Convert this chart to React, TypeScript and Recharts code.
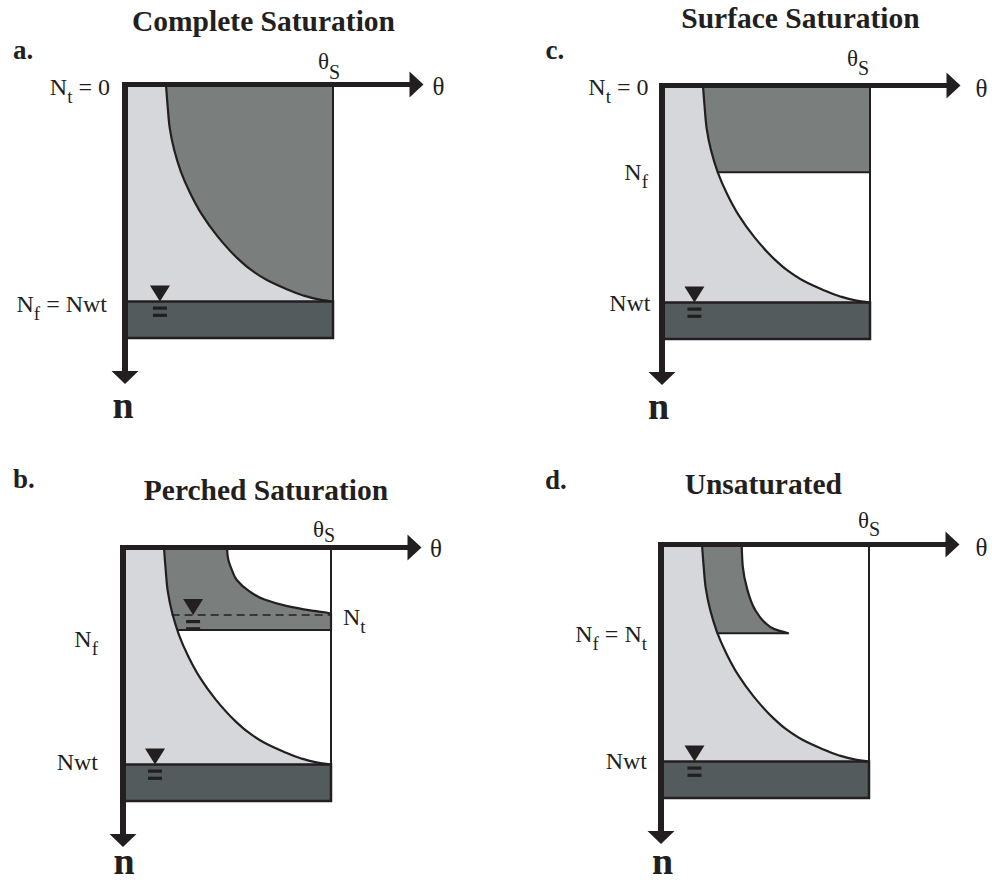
import React from 'react';
import {
  ComposedChart,
  XAxis,
  YAxis,
  Area,
  Line,
  ReferenceArea,
  ReferenceLine,
  ReferenceDot,
} from 'recharts';

const INK = '#231f20';
const LIGHT = '#d6d7db';
const MID = '#7a7f7e';
const WATER = '#545b5d';
const FONT = '"Liberation Serif", "Times New Roman", serif';

// moisture profile θ(n) from the surface down to the water table
const depth = [0, 0.1, 0.2, 0.3, 0.4, 0.5, 0.6, 0.7, 0.8, 0.85, 0.9, 0.94, 0.97, 0.99, 1.0];
const retention = [0.197, 0.205, 0.215, 0.236, 0.268, 0.313, 0.37, 0.445, 0.54, 0.6, 0.68, 0.77, 0.85, 0.93, 1.0];

// surface saturation reaches down to the front
const surfaceDepth = depth.slice(0, 5);
const surfaceInner = retention.slice(0, 5);

// perched lens sitting on the front
const perchedDepth = [0, 0.05, 0.1, 0.15, 0.2, 0.24, 0.27, 0.29, 0.305, 0.38];
const perchedInner = [0.197, 0.2, 0.205, 0.21, 0.215, 0.222, 0.23, 0.234, 0.238, 0.26];
const perchedOuter = [0.5, 0.505, 0.522, 0.547, 0.605, 0.68, 0.79, 0.9, 1.0, 1.0];

// wetting pulse above the front
const pulseDepth = [0, 0.1, 0.2, 0.3, 0.36, 0.39, 0.409];
const pulseInner = [0.197, 0.205, 0.215, 0.236, 0.255, 0.262, 0.268];
const pulseOuter = [0.388, 0.393, 0.413, 0.452, 0.5, 0.545, 0.612];

const N_WT = 1;
const N_BOTTOM = 1.168;
const THETA_S = 1;
const THETA_END = 1.435;
const N_END = 1.38;

type Row = { n: number; th: number };
type Band = { n: number; lo: number; hi: number };
const wetting: Row[] = depth.map((n, i) => ({ n, th: retention[i] }));
const band = (ns: number[], lo: number[], hi: number[] | number): Band[] =>
  ns.map((n, i) => ({ n, lo: lo[i], hi: Array.isArray(hi) ? hi[i] : hi }));

// chart frame: origin (θ=0, n=0) sits at OX, OY inside each chart
const W = 496;
const H = 441;
const OX = 125;
const OY = 84.5;
const KX = 208;
const KY = 217;
const xDomain: [number, number] = [-OX / KX, (W - OX) / KX];
const nDomain: [number, number] = [-OY / KY, (H - OY) / KY];

type Part = { t: string; sub?: boolean };
type Tag = {
  x: number;
  y: number;
  dx: number;
  dy: number;
  parts: Part[];
  anchor?: 'start' | 'middle' | 'end';
  size?: number;
  subSize?: number;
  subShift?: number;
  bold?: boolean;
};

const N = (s: string, rest?: string): Part[] =>
  rest ? [{ t: 'N' }, { t: s, sub: true }, { t: rest }] : [{ t: 'N' }, { t: s, sub: true }];
const thetaS: Part[] = [{ t: 'θ' }, { t: 'S', sub: true }];

type PanelSpec = {
  key: string;
  left: number;
  top: number;
  title: string;
  titleX: number;
  titleY: number;
  letter: string;
  letterX: number;
  letterY: number;
  zone: Band[];
  rimmed: boolean;
  fronts: [number, number, number][];
  dashed?: [number, number, number];
  marks: [number, number][];
  tags: Tag[];
};

const panels: PanelSpec[] = [
  {
    key: 'a',
    left: 0,
    top: 0,
    title: 'Complete Saturation',
    titleX: 263.5,
    titleY: 30.5,
    letter: 'a.',
    letterX: 13,
    letterY: 59,
    zone: band(depth, retention, THETA_S),
    rimmed: false,
    fronts: [],
    marks: [[0.168, N_WT]],
    tags: [
      { x: 0, y: 0, dx: -15, dy: 10.5, parts: N('t', ' = 0') },
      { x: 0, y: N_WT, dx: -18, dy: 10, parts: N('f', ' = Nwt') },
      { x: THETA_S, y: 0, dx: -15, dy: -15.5, parts: thetaS, anchor: 'start', size: 23, subSize: 20, subShift: 10 },
      { x: THETA_END, y: 0, dx: 9, dy: 10.5, parts: [{ t: 'θ' }], anchor: 'start', size: 25 },
      { x: 0, y: N_END, dx: -2, dy: 34, parts: [{ t: 'n' }], anchor: 'middle', size: 38, bold: true },
    ],
  },
  {
    key: 'c',
    left: 536.5,
    top: 0.8,
    title: 'Surface Saturation',
    titleX: 263.5,
    titleY: 27.2,
    letter: 'c.',
    letterX: 8.5,
    letterY: 57.7,
    zone: band(surfaceDepth, surfaceInner, THETA_S),
    rimmed: false,
    fronts: [[0.268, 0.4, THETA_S]],
    marks: [[0.156, N_WT]],
    tags: [
      { x: 0, y: 0, dx: -13.5, dy: 9.7, parts: N('t', ' = 0') },
      { x: 0, y: 0.4, dx: -14, dy: 8, parts: N('f') },
      { x: 0, y: N_WT, dx: -11.5, dy: 8, parts: [{ t: 'Nwt' }] },
      { x: THETA_S, y: 0, dx: -23, dy: -20, parts: thetaS, anchor: 'start', size: 23, subSize: 20, subShift: 9 },
      { x: THETA_END, y: 0, dx: 15, dy: 11, parts: [{ t: 'θ' }], anchor: 'start', size: 25 },
      { x: 0, y: N_END, dx: -3.5, dy: 34, parts: [{ t: 'n' }], anchor: 'middle', size: 38, bold: true },
    ],
  },
  {
    key: 'b',
    left: -2,
    top: 463,
    title: 'Perched Saturation',
    titleX: 268,
    titleY: 37,
    letter: 'b.',
    letterX: 15,
    letterY: 25,
    zone: band(perchedDepth, perchedInner, perchedOuter),
    rimmed: true,
    fronts: [[0.26, 0.38, THETA_S]],
    dashed: [0.234, 0.311, THETA_S],
    marks: [
      [0.154, N_WT],
      [0.337, 0.311],
    ],
    tags: [
      { x: 0, y: 0.38, dx: -25, dy: 17, parts: N('f') },
      { x: 0, y: N_WT, dx: -25, dy: 5.5, parts: [{ t: 'Nwt' }] },
      { x: THETA_S, y: 0.311, dx: 12, dy: 10, parts: N('t'), anchor: 'start' },
      { x: THETA_S, y: 0, dx: -18, dy: -11, parts: thetaS, anchor: 'start', size: 23, subSize: 20, subShift: 5 },
      { x: THETA_END, y: 0, dx: 8.5, dy: 9, parts: [{ t: 'θ' }], anchor: 'start', size: 25 },
      { x: 0, y: N_END, dx: 1, dy: 27, parts: [{ t: 'n' }], anchor: 'middle', size: 38, bold: true },
    ],
  },
  {
    key: 'd',
    left: 536,
    top: 459.5,
    title: 'Unsaturated',
    titleX: 227.3,
    titleY: 33.5,
    letter: 'd.',
    letterX: 9,
    letterY: 28.5,
    zone: band(pulseDepth, pulseInner, pulseOuter),
    rimmed: true,
    fronts: [[0.268, 0.409, 0.615]],
    marks: [[0.161, N_WT]],
    tags: [
      { x: 0, y: 0.409, dx: -14, dy: 9, parts: [...N('f', ' = N'), { t: 't', sub: true }] },
      { x: 0, y: N_WT, dx: -14, dy: 7, parts: [{ t: 'Nwt' }] },
      { x: THETA_S, y: 0, dx: -11, dy: -17, parts: thetaS, anchor: 'start', size: 23, subSize: 20, subShift: 8 },
      { x: THETA_END, y: 0, dx: 16, dy: 11, parts: [{ t: 'θ' }], anchor: 'start', size: 25 },
      { x: 0, y: N_END, dx: 1.5, dy: 30, parts: [{ t: 'n' }], anchor: 'middle', size: 38, bold: true },
    ],
  },
];

function renderTag(cx: number, cy: number, tag: Tag) {
  const size = tag.size ?? 24;
  const subSize = tag.subSize ?? 19;
  const shift = tag.subShift ?? 8;
  let low = false;
  return (
    <text
      x={cx + tag.dx}
      y={cy + tag.dy}
      textAnchor={tag.anchor ?? 'end'}
      fontFamily={FONT}
      fontSize={size}
      fontWeight={tag.bold ? 700 : 400}
      fill={INK}
    >
      {tag.parts.map((p, i) => {
        let dy = 0;
        if (p.sub && !low) {
          dy = shift;
          low = true;
        } else if (!p.sub && low) {
          dy = -shift;
          low = false;
        }
        return (
          <tspan key={i} dy={dy || undefined} fontSize={p.sub ? subSize : size}>
            {p.t}
          </tspan>
        );
      })}
    </text>
  );
}

const waterMark = (props: any) => {
  const { cx, cy } = props;
  return (
    <g fill={INK}>
      <polygon points={`${cx - 10},${cy - 16} ${cx + 10},${cy - 16} ${cx},${cy}`} />
      <rect x={cx - 7} y={cy + 5} width={14} height={3.2} />
      <rect x={cx - 7} y={cy + 12.2} width={14} height={3.2} />
    </g>
  );
};

const arrowRight = (props: any) => {
  const { cx, cy } = props;
  return <polygon points={`${cx},${cy} ${cx - 14},${cy - 13} ${cx - 14},${cy + 13}`} fill={INK} />;
};

const arrowDown = (props: any) => {
  const { cx, cy } = props;
  return <polygon points={`${cx},${cy} ${cx - 13.5},${cy - 13} ${cx + 13.5},${cy - 13}`} fill={INK} />;
};

function Panel({ p }: { p: PanelSpec }) {
  return (
    <div style={{ position: 'absolute', left: p.left, top: p.top, width: W, height: H }}>
      <ComposedChart
        width={W}
        height={H}
        layout="vertical"
        margin={{ top: 0, right: 0, bottom: 0, left: 0 }}
      >
        <XAxis type="number" hide domain={xDomain} allowDataOverflow />
        {/* in vertical layout the category axis already runs top to bottom */}
        <YAxis type="number" dataKey="n" hide domain={nDomain} allowDataOverflow />

        {/* drained part of the profile, left of the moisture curve */}
        <Area
          data={wetting}
          dataKey="th"
          type="monotone"
          baseValue={0}
          fill={LIGHT}
          fillOpacity={1}
          stroke="none"
          dot={false}
          activeDot={false}
          isAnimationActive={false}
        />
        {/* saturated zone between the moisture curve and its outer rim */}
        <Area
          data={p.zone}
          dataKey={(r: Band) => [r.lo, r.hi]}
          type="monotone"
          fill={MID}
          fillOpacity={1}
          stroke="none"
          dot={false}
          activeDot={false}
          isAnimationActive={false}
        />
        <ReferenceArea
          x1={0}
          x2={THETA_S}
          y1={N_WT}
          y2={N_BOTTOM}
          fill={WATER}
          fillOpacity={1}
          stroke={INK}
          strokeWidth={2.5}
          ifOverflow="visible"
        />

        <Line
          data={wetting}
          dataKey="th"
          type="monotone"
          stroke={INK}
          strokeWidth={2.2}
          dot={false}
          activeDot={false}
          isAnimationActive={false}
        />
        {p.rimmed && (
          <Line
            data={p.zone}
            dataKey="hi"
            type="monotone"
            stroke={INK}
            strokeWidth={2.2}
            dot={false}
            activeDot={false}
            isAnimationActive={false}
          />
        )}

        {p.fronts.map(([a, n, b], i) => (
          <ReferenceLine
            key={`f${i}`}
            segment={[
              { x: a, y: n },
              { x: b, y: n },
            ]}
            stroke={INK}
            strokeWidth={2}
          />
        ))}
        {p.dashed && (
          <ReferenceLine
            segment={[
              { x: p.dashed[0], y: p.dashed[1] },
              { x: p.dashed[2], y: p.dashed[1] },
            ]}
            stroke={INK}
            strokeWidth={1.5}
            strokeDasharray="8 5"
          />
        )}

        {/* right side of the profile box */}
        <ReferenceLine
          segment={[
            { x: THETA_S, y: 0 },
            { x: THETA_S, y: N_BOTTOM },
          ]}
          stroke={INK}
          strokeWidth={2}
        />

        {/* θ and n axes */}
        <ReferenceLine
          segment={[
            { x: -0.014, y: 0 },
            { x: THETA_END - 0.04, y: 0 },
          ]}
          stroke={INK}
          strokeWidth={5}
        />
        <ReferenceLine
          segment={[
            { x: 0, y: -0.011 },
            { x: 0, y: N_END - 0.04 },
          ]}
          stroke={INK}
          strokeWidth={6}
        />
        <ReferenceDot x={THETA_END} y={0} shape={arrowRight} ifOverflow="visible" />
        <ReferenceDot x={0} y={N_END} shape={arrowDown} ifOverflow="visible" />

        {p.marks.map(([x, y], i) => (
          <ReferenceDot key={`m${i}`} x={x} y={y} shape={waterMark} ifOverflow="visible" />
        ))}
        {p.tags.map((tag, i) => (
          <ReferenceDot
            key={`t${i}`}
            x={tag.x}
            y={tag.y}
            ifOverflow="visible"
            shape={(props: any) => renderTag(props.cx, props.cy, tag)}
          />
        ))}
      </ComposedChart>
      <svg
        width={W}
        height={H}
        style={{ position: 'absolute', left: 0, top: 0, pointerEvents: 'none' }}
      >
        <text x={p.titleX} y={p.titleY} textAnchor="middle" fontFamily={FONT} fontSize={29.5} fontWeight={700} fill={INK}>
          {p.title}
        </text>
        <text x={p.letterX} y={p.letterY} fontFamily={FONT} fontSize={27} fontWeight={700} fill={INK}>
          {p.letter}
        </text>
      </svg>
    </div>
  );
}

export default function App() {
  return (
    <div
      style={{
        position: 'absolute',
        left: 0,
        top: 0,
        width: 992,
        height: 882,
        overflow: 'hidden',
        background: '#fff',
      }}
    >
      {panels.map((p) => (
        <Panel key={p.key} p={p} />
      ))}
    </div>
  );
}
